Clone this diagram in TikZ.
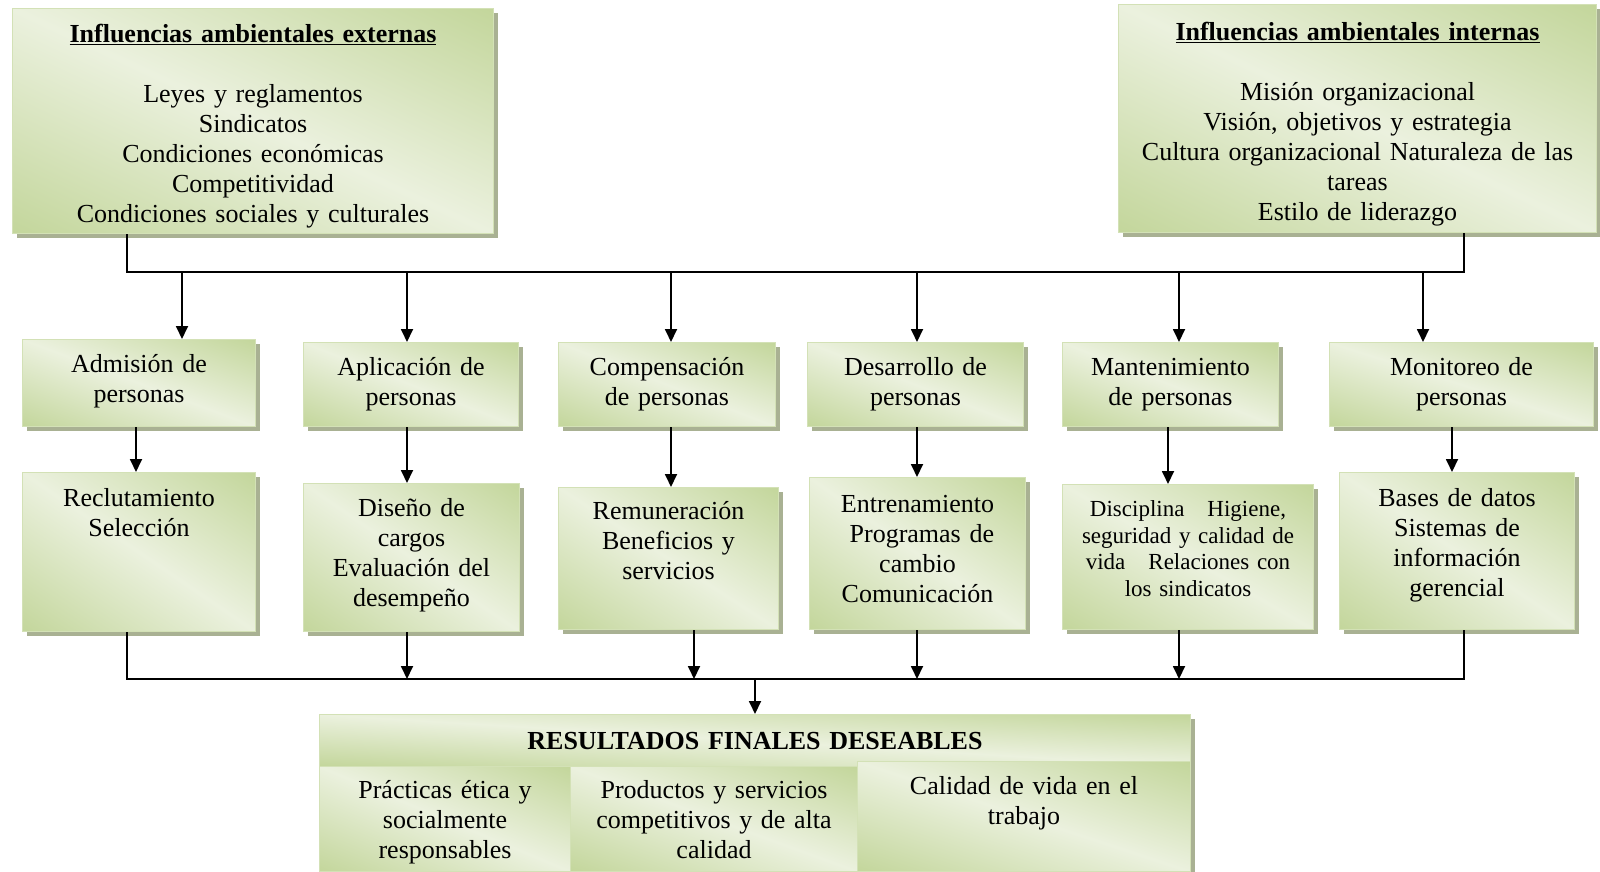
\documentclass[tikz,border=0pt]{standalone}
\usepackage{fontspec}
\setmainfont{Liberation Serif}
\usetikzlibrary{arrows.meta,shadows}
\definecolor{verdeborde}{HTML}{D3E1B6}
\definecolor{sombra}{HTML}{A9B193}
% claro EBF1DE en el centro, oscuro C3D69B en las esquinas inferior izquierda y superior derecha
\pgfdeclarefunctionalshading{verdediag}{\pgfpointorigin}{\pgfpoint{100bp}{100bp}}{}{
  add 50 sub 100 div 0.5 sub abs 2 mul
  dup 1 gt {pop 1} if
  dup -0.157 mul 0.922 add exch
  dup -0.106 mul 0.945 add exch
  -0.263 mul 0.871 add
}

\begin{document}
\begin{tikzpicture}[x=1pt,y=-1pt,
  caja/.style={anchor=north west, inner sep=0pt, align=center, shading=verdediag,
    draw=verdeborde, line width=1pt,
    drop shadow={shadow xshift=4pt, shadow yshift=-4pt, fill=sombra, opacity=1},
    font=\fontsize{26}{30}\selectfont},
  linea/.style={line width=1.8pt},
  flecha/.style={line width=1.8pt, -{Triangle[length=13pt,width=12pt]}}]
\path[use as bounding box, fill=white] (0,0) rectangle (1600,871);

% influencias
\node[caja, text width=481pt, text height=34pt, text depth=191pt] (ext) at (12,8)
  {\underline{\textbf{Influencias ambientales externas}}\\[30pt]Leyes y reglamentos\\Sindicatos\\Condiciones económicas\\Competitividad\\Condiciones sociales y culturales};
\node[caja, text width=478pt, text height=36pt, text depth=192pt] (int) at (1118,4)
  {\underline{\textbf{Influencias ambientales internas}}\\[30pt]Misión organizacional\\Visión, objetivos y estrategia\\Cultura organizacional Naturaleza de las\\tareas\\Estilo de liderazgo};

% procesos
\node[caja, text width=233pt, text height=33pt, text depth=54pt] (adm) at (22,339) {Admisión de\\personas};
\node[caja, text width=215pt, text height=33pt, text depth=51pt] (apl) at (303,342) {Aplicación de\\personas};
\node[caja, text width=217pt, text height=33pt, text depth=51pt] (com) at (558,342) {Compensación\\de personas};
\node[caja, text width=216pt, text height=33pt, text depth=51pt] (des) at (807,342) {Desarrollo de\\personas};
\node[caja, text width=216pt, text height=33pt, text depth=51pt] (man) at (1062,342) {Mantenimiento\\de personas};
\node[caja, text width=264pt, text height=33pt, text depth=51pt] (mon) at (1329,342) {Monitoreo de\\personas};

\node[caja, text width=233pt, text height=34pt, text depth=125pt] (rec) at (22,472) {Reclutamiento\\Selección};
\node[caja, text width=216pt, text height=33pt, text depth=115pt] (dis) at (303,483) {Diseño de\\cargos\\Evaluación del\\desempeño};
\node[caja, text width=220pt, text height=32pt, text depth=110pt] (rem) at (558,487) {Remuneración\\Beneficios y\\servicios};
\node[caja, text width=216pt, text height=35pt, text depth=117pt] (ent) at (809,477) {Entrenamiento\\\ Programas de\\cambio\\Comunicación};
\node[caja, text width=251pt, text height=32pt, text depth=113pt, font=\fontsize{23}{26.5}\selectfont] (dsc) at (1062,484)
  {Disciplina~~ Higiene,\\seguridad y calidad de\\vida~~ Relaciones con\\los sindicatos};
\node[caja, text width=235pt, text height=34pt, text depth=123pt] (bas) at (1339,472) {Bases de datos\\Sistemas de\\información\\gerencial};

% resultados
\node[caja, text width=871pt, text height=35pt, text depth=17pt] (res) at (319,714) {\textbf{RESULTADOS FINALES DESEABLES}};
\node[caja, text width=251pt, text height=32pt, text depth=73pt] (pr1) at (319,766) {Prácticas ética y\\socialmente\\responsables};
\node[caja, text width=287pt, text height=32pt, text depth=73pt] (pr2) at (570,766) {Productos y servicios\\competitivos y de alta\\calidad};
\node[caja, text width=333pt, text height=33pt, text depth=77pt] (pr3) at (857,761) {Calidad de vida en el\\trabajo};

% conectores
\coordinate (bi) at (127,272);
\coordinate (bd) at (1464,272);
\draw[linea] (ext.south -| bi) -- (bi) -- (bd) -- (int.south -| bd);
\foreach \n/\x in {adm/182,apl/407,com/671,des/917,man/1179,mon/1423}
  {\coordinate (s\n) at (\x,272);
   \draw[flecha] (s\n) -- (s\n |- \n.north);}
\foreach \a/\b/\x in {adm/rec/136,apl/dis/407,com/rem/671,des/ent/917,man/dsc/1168,mon/bas/1452}
  {\coordinate (m\a) at (\x,0);
   \draw[flecha] (m\a |- \a.south) -- (m\a |- \b.north);}
\coordinate (ui) at (127,679);
\coordinate (ud) at (1464,679);
\draw[linea] (ui |- rec.south) -- (ui) -- (ud) -- (ud |- bas.south);
\foreach \a/\x in {dis/407,rem/694,ent/917,dsc/1179}
  {\coordinate (u\a) at (\x,679);
   \draw[flecha] (u\a |- \a.south) -- (u\a);}
\coordinate (uc) at (755,679);
\draw[flecha] (uc) -- (uc |- res.north);
\end{tikzpicture}
\end{document}
